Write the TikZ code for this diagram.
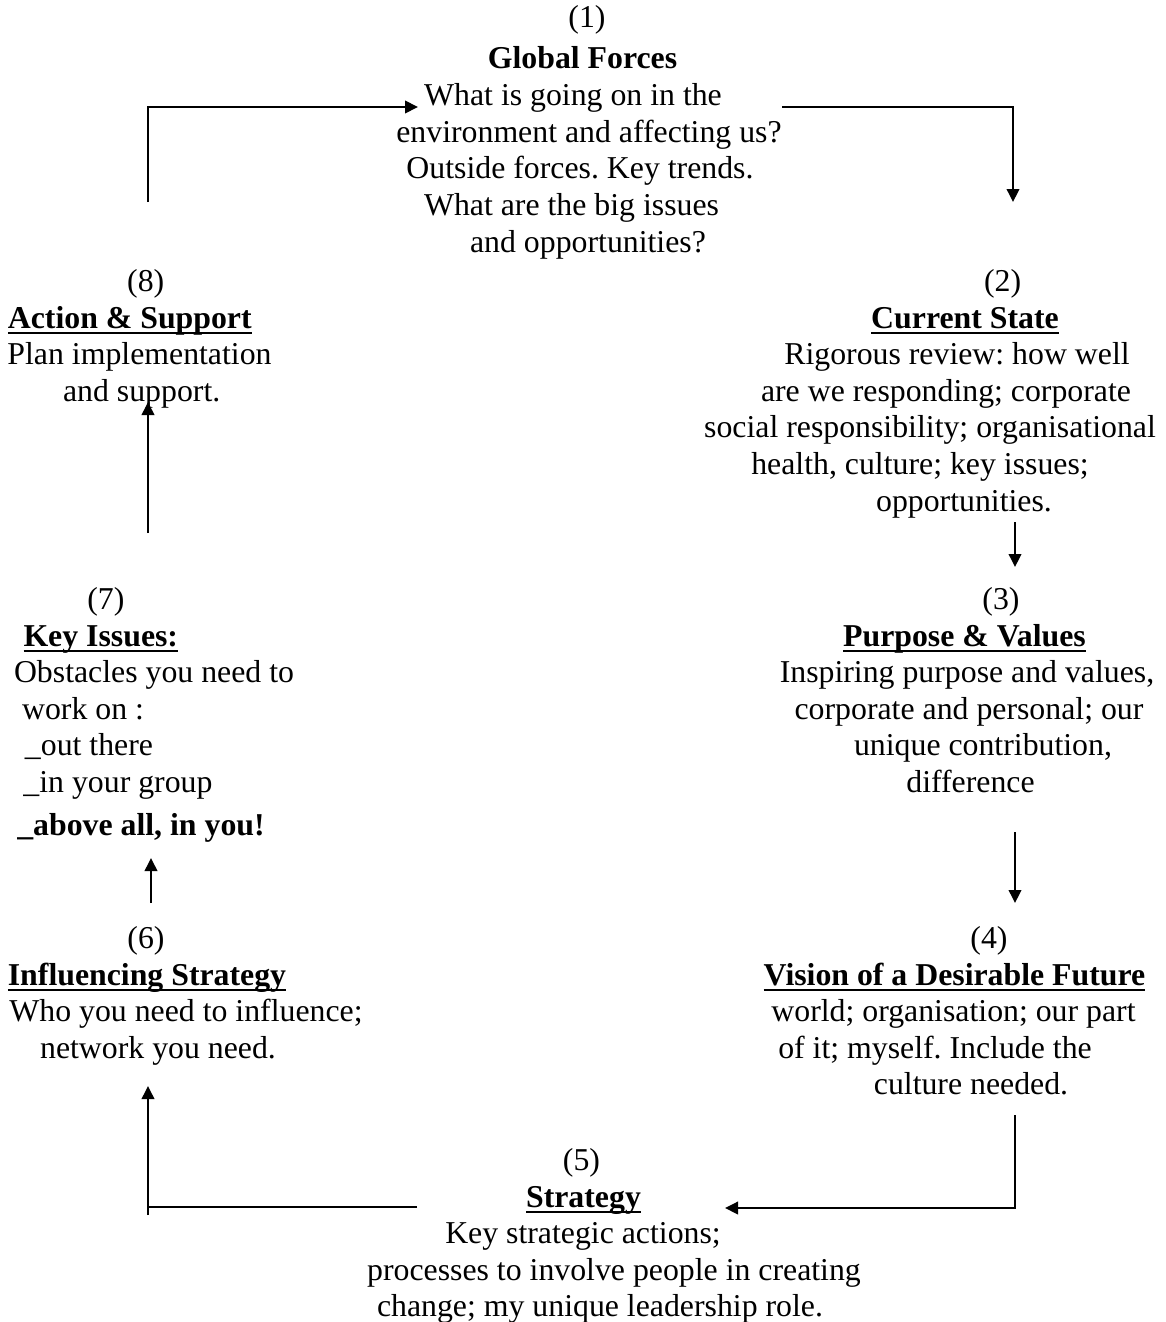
\documentclass[tikz,border=0pt]{standalone}
\usepackage{fontspec}
\setmainfont{Liberation Serif}
\usetikzlibrary{arrows.meta}
\frenchspacing
\newcommand\myul[1]{\setbox0\hbox{#1}\rlap{\rule[-5.8pt]{\wd0}{2.2pt}}\box0}
\tikzset{
  txt/.style={inner sep=0pt, anchor=base, font=\fontsize{31.8pt}{36.6pt}\selectfont\frenchspacing},
  ttl/.style={txt, font=\fontsize{31.8pt}{36.6pt}\selectfont\bfseries\frenchspacing},
  wire/.style={line width=2pt},
  conn/.style={wire, -{Triangle[length=13pt,width=12.5pt]}}
}
\begin{document}
\begin{tikzpicture}[x=1pt,y=-1pt]
\useasboundingbox (0,0) rectangle (1165,1322);
% (1)
\node[txt] (n1a) at (587,28) {(1)};
\node[ttl] (n1b) at (582.5,68) {Global Forces};
\node[txt] (n1c) at (573,105) {What is going on in the};
\node[txt] (n1d) at (589,142) {environment and affecting us?};
\node[txt] (n1e) at (580,178) {Outside forces. Key trends.};
\node[txt] (n1f) at (571.5,215) {What are the big issues};
\node[txt] (n1g) at (588,252) {and opportunities?};
% (8)
\node[txt] (n8a) at (145.7,291.5) {(8)};
\node[ttl] (n8b) at (129.8,328) {\myul{Action \& Support}};
\node[txt] (n8c) at (139.5,364.6) {Plan implementation};
\node[txt] (n8d) at (141.7,401.2) {and support.};
% (2)
\node[txt] (n2a) at (1002.6,291.5) {(2)};
\node[ttl] (n2b) at (965,328) {\myul{Current State}};
\node[txt] (n2c) at (957,364.6) {Rigorous review: how well};
\node[txt] (n2d) at (946,401.2) {are we responding; corporate};
\node[txt] (n2e) at (930,437.8) {social responsibility; organisational};
\node[txt] (n2f) at (920,474.4) {health, culture; key issues;};
\node[txt] (n2g) at (964,511) {opportunities.};
% (7)
\node[txt] (n7a) at (105.8,609.4) {(7)};
\node[ttl] (n7b) at (100.8,646) {\myul{Key Issues:}};
\node[txt] (n7c) at (154,682.6) {Obstacles you need to};
\node[txt] (n7d) at (83,719.2) {work on :};
\node[txt] (n7e) at (89,755.8) {\_out there};
\node[txt] (n7f) at (118,792.4) {\_in your group};
\node[ttl] (n7g) at (141,835) {\_above all, in you!};
% (3)
\node[txt] (n3a) at (1001,609.4) {(3)};
\node[ttl] (n3b) at (964.5,646) {\myul{Purpose \& Values}};
\node[txt] (n3c) at (967,682.6) {Inspiring purpose and values,};
\node[txt] (n3d) at (969,719.2) {corporate and personal; our};
\node[txt] (n3e) at (983,755.8) {unique contribution,};
\node[txt] (n3f) at (970.5,792.4) {difference};
% (6)
\node[txt] (n6a) at (146,948.4) {(6)};
\node[ttl] (n6b) at (147,985) {\myul{Influencing Strategy}};
\node[txt] (n6c) at (186,1021.6) {Who you need to influence;};
\node[txt] (n6d) at (158,1058.2) {network you need.};
% (4)
\node[txt] (n4a) at (989,948.4) {(4)};
\node[ttl] (n4b) at (954.5,985) {\myul{Vision of a Desirable Future}};
\node[txt] (n4c) at (953.5,1021.6) {world; organisation; our part};
\node[txt] (n4d) at (935,1058.2) {of it; myself. Include the};
\node[txt] (n4e) at (971,1094.8) {culture needed.};
% (5)
\node[txt] (n5a) at (581.5,1170.4) {(5)};
\node[ttl] (n5b) at (583.5,1207) {\myul{Strategy}};
\node[txt] (n5c) at (583,1243.6) {Key strategic actions;};
\node[txt] (n5d) at (614,1280.2) {processes to involve people in creating};
\node[txt] (n5e) at (600,1316.8) {change; my unique leadership role.};
% connector end points
\coordinate (a81) at (148,202);
\coordinate (a82) at (148,107);
\coordinate (a83) at (418,107);
\coordinate (a11) at (782,107);
\coordinate (a12) at (1013,107);
\coordinate (a13) at (1013,202);
\coordinate (a21) at (1015,522);
\coordinate (a22) at (1015,567);
\coordinate (a31) at (1015,832);
\coordinate (a32) at (1015,903);
\coordinate (a41) at (1015,1115);
\coordinate (a42) at (1015,1208);
\coordinate (a43) at (725,1208);
\coordinate (a51) at (417,1207);
\coordinate (a52) at (148,1207);
\coordinate (a53) at (148,1215);
\coordinate (a54) at (148,1086);
\coordinate (a61) at (151,903);
\coordinate (a62) at (151,858);
\coordinate (a71) at (148,533);
\coordinate (a72) at (148,402);
% connectors
\draw[conn] (a81) -- (a82) -- (a83);
\draw[conn] (a11) -- (a12) -- (a13);
\draw[conn] (a21) -- (a22);
\draw[conn] (a31) -- (a32);
\draw[conn] (a41) -- (a42) -- (a43);
\draw[wire] (a51) -- (a52);
\draw[conn] (a53) -- (a54);
\draw[conn] (a61) -- (a62);
\draw[conn] (a71) -- (a72);
\end{tikzpicture}
\end{document}
